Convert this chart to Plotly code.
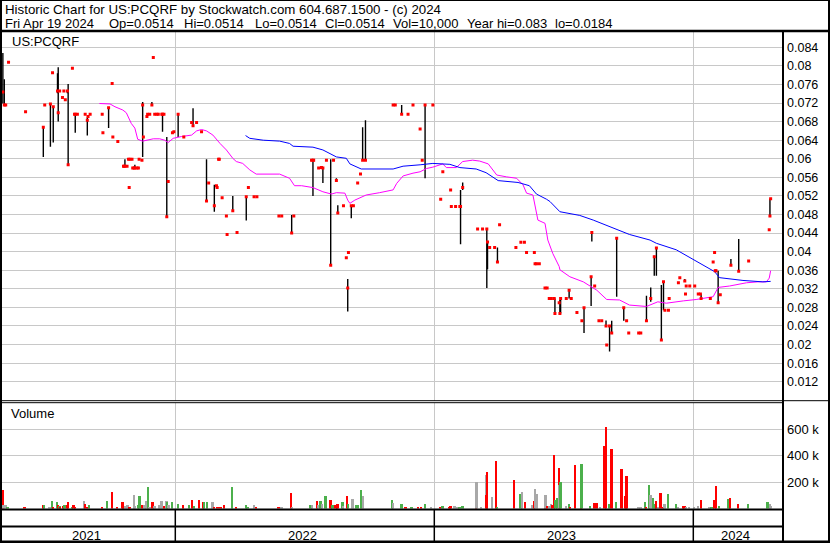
import plotly.graph_objects as go

W, H = 830, 543

# ---------------- data ----------------
close_dates = [
    "2021-05-03","2021-05-05","2021-05-07","2021-05-11","2021-06-04","2021-06-29","2021-07-01","2021-07-09",
    "2021-07-12","2021-07-13","2021-07-19","2021-07-20","2021-07-22","2021-07-26","2021-07-28","2021-07-30",
    "2021-08-02","2021-08-03","2021-08-09","2021-08-12","2021-08-13","2021-08-16","2021-08-27","2021-08-30",
    "2021-08-31","2021-09-03","2021-09-20","2021-09-21","2021-09-29","2021-10-04","2021-10-05","2021-10-12",
    "2021-10-20","2021-10-21","2021-10-22","2021-10-25","2021-10-27","2021-10-28","2021-10-29","2021-11-01",
    "2021-11-02","2021-11-04","2021-11-05","2021-11-08","2021-11-10","2021-11-11","2021-11-15","2021-11-16",
    "2021-11-17","2021-11-22","2021-11-23","2021-11-26","2021-11-29","2021-12-01","2021-12-03","2021-12-06",
    "2021-12-08","2021-12-13","2021-12-14","2021-12-16","2021-12-20","2021-12-22","2021-12-28","2021-12-30",
    "2022-01-05","2022-01-13","2022-01-24","2022-01-26","2022-01-31","2022-02-07","2022-02-14","2022-02-17",
    "2022-02-25","2022-02-28","2022-03-01","2022-03-03","2022-03-04","2022-03-08","2022-03-14","2022-03-15",
    "2022-03-23","2022-03-29","2022-04-11","2022-04-14","2022-04-22","2022-04-26","2022-05-27","2022-05-31",
    "2022-06-14","2022-06-17","2022-07-12","2022-07-14","2022-07-15","2022-07-22","2022-07-26","2022-07-28",
    "2022-08-02","2022-08-08","2022-08-12","2022-08-16","2022-08-18","2022-08-26","2022-08-30","2022-09-01",
    "2022-09-02","2022-09-06","2022-09-09","2022-09-15","2022-09-19","2022-09-22","2022-09-26","2022-11-04",
    "2022-11-07","2022-11-16","2022-11-25","2022-12-02","2022-12-12","2022-12-15","2022-12-19","2022-12-30",
    "2023-01-10","2023-01-13","2023-01-24","2023-01-25","2023-01-31","2023-02-06","2023-02-07","2023-02-10",
    "2023-03-03","2023-03-10","2023-03-16","2023-03-17","2023-03-20","2023-03-27","2023-03-31","2023-04-03",
    "2023-04-26","2023-05-03","2023-05-08","2023-05-11","2023-05-22","2023-05-23","2023-05-25","2023-05-29",
    "2023-06-06","2023-06-09","2023-06-12","2023-06-15","2023-06-19","2023-06-20","2023-06-26","2023-06-27",
    "2023-06-28","2023-07-06","2023-07-10","2023-07-13","2023-07-21","2023-07-28","2023-07-31","2023-08-10",
    "2023-08-11","2023-08-15","2023-08-21","2023-08-25","2023-08-31","2023-09-01","2023-09-05","2023-09-08",
    "2023-09-15","2023-09-25","2023-09-29","2023-10-02","2023-10-16","2023-10-19","2023-10-27","2023-11-02",
    "2023-11-07","2023-11-10","2023-11-17","2023-11-20","2023-11-22","2023-11-27","2023-11-28","2023-12-11",
    "2023-12-13","2023-12-20","2023-12-21","2023-12-22","2023-12-27","2024-01-03","2024-01-08","2024-01-11",
    "2024-01-12","2024-01-25","2024-01-29","2024-01-31","2024-02-01","2024-02-02","2024-02-05","2024-02-08",
    "2024-02-23","2024-03-05","2024-03-19","2024-04-17","2024-04-18","2024-04-19",
]
close_values = [
    0.0744,0.0716,0.0716,0.0808,0.0701,0.0668,0.0716,0.0718,
    0.0785,0.0712,0.0746,0.0699,0.0746,0.0732,0.0746,0.0727,
    0.0746,0.0587,0.0795,0.0696,0.0696,0.0696,0.0696,0.0683,
    0.0691,0.0696,0.0696,0.0656,0.0710,0.0762,0.0647,0.0637,
    0.0584,0.0584,0.0584,0.0584,0.0599,0.0538,0.0599,0.0599,
    0.0580,0.0580,0.0580,0.0580,0.0580,0.0599,0.0597,0.0716,
    0.0647,0.0691,0.0696,0.0696,0.0716,0.0818,0.0696,0.0696,
    0.0696,0.0696,0.0696,0.0696,0.0475,0.0551,0.0656,0.0658,
    0.0696,0.0647,0.0678,0.0671,0.0678,0.0658,0.0509,0.0548,
    0.0499,0.0542,0.0538,0.0599,0.0599,0.0516,0.0477,0.0437,
    0.0488,0.0441,0.0518,0.0538,0.0518,0.0518,0.0477,0.0477,
    0.0440,0.0477,0.0597,0.0597,0.0597,0.0580,0.0581,0.0580,
    0.0597,0.0371,0.0597,0.0553,0.0483,0.0499,0.0387,0.0322,
    0.0398,0.0499,0.0499,0.0548,0.0567,0.0597,0.0597,0.0716,
    0.0716,0.0696,0.0696,0.0716,0.0664,0.0597,0.0716,0.0716,
    0.0513,0.0572,0.0533,0.0497,0.0497,0.0497,0.0497,0.0538,
    0.0449,0.0449,0.0449,0.0421,0.0409,0.0409,0.0378,0.0458,
    0.0409,0.0420,0.0420,0.0398,0.0398,0.0374,0.0374,0.0374,
    0.0322,0.0322,0.0299,0.0299,0.0299,0.0267,0.0290,0.0267,
    0.0299,0.0299,0.0317,0.0299,0.0269,0.0251,0.0279,0.0346,
    0.0441,0.0326,0.0251,0.0251,0.0240,0.0199,0.0240,0.0225,
    0.0429,0.0279,0.0251,0.0225,0.0225,0.0225,0.0251,0.0299,
    0.0389,0.0408,0.0210,0.0335,0.0274,0.0274,0.0299,0.0333,
    0.0344,0.0337,0.0309,0.0326,0.0326,0.0326,0.0309,0.0309,
    0.0299,0.0299,0.0378,0.0398,0.0359,0.0359,0.0290,0.0307,
    0.0371,0.0358,0.0380,0.0447,0.0477,0.0514,
]

range_dates = [
    "2021-05-03","2021-05-05","2021-06-29","2021-07-09","2021-07-13","2021-07-19","2021-07-20","2021-08-02",
    "2021-08-03","2021-08-13","2021-08-30","2021-09-29","2021-10-22","2021-11-05","2021-11-16","2021-11-29",
    "2021-12-14","2021-12-20","2022-01-05","2022-01-26","2022-02-14","2022-02-25","2022-03-23","2022-04-11",
    "2022-06-14","2022-07-14","2022-07-28","2022-08-08","2022-08-16","2022-08-18","2022-09-01","2022-09-06",
    "2022-09-22","2022-09-26","2022-11-16","2022-12-19","2023-02-07","2023-02-10","2023-03-16","2023-03-17",
    "2023-03-31","2023-06-20","2023-06-27","2023-06-28","2023-07-10","2023-07-31","2023-08-10","2023-08-11",
    "2023-08-31","2023-09-05","2023-09-08","2023-09-15","2023-09-25","2023-10-27","2023-11-02","2023-11-07",
    "2023-11-10","2023-11-17","2023-11-20","2023-11-28","2023-12-20","2024-01-12","2024-02-05","2024-02-23",
    "2024-03-05","2024-04-18",
]
range_high = [
    0.0828,0.0771,0.0668,0.0718,0.0712,0.0784,0.0797,0.0746,
    0.0761,0.0696,0.0689,0.0710,0.0599,0.0587,0.0722,0.0722,
    0.0696,0.0647,0.0698,0.0709,0.0599,0.0544,0.0520,0.0520,
    0.0479,0.0597,0.0580,0.0599,0.0558,0.0500,0.0341,0.0499,
    0.0668,0.0683,0.0716,0.0716,0.0533,0.0549,0.0449,0.0421,
    0.0409,0.0299,0.0296,0.0299,0.0317,0.0279,0.0346,0.0441,
    0.0252,0.0240,0.0251,0.0429,0.0280,0.0305,0.0323,0.0391,
    0.0409,0.0328,0.0335,0.0301,0.0341,0.0309,0.0359,0.0384,
    0.0427,0.0514,
]
range_low = [
    0.0719,0.0716,0.0604,0.0626,0.0635,0.0741,0.0680,0.0741,
    0.0587,0.0656,0.0650,0.0666,0.0584,0.0580,0.0604,0.0716,
    0.0658,0.0475,0.0647,0.0671,0.0509,0.0486,0.0488,0.0467,
    0.0440,0.0520,0.0548,0.0371,0.0553,0.0483,0.0271,0.0472,
    0.0597,0.0597,0.0696,0.0558,0.0416,0.0533,0.0322,0.0362,
    0.0378,0.0266,0.0267,0.0267,0.0299,0.0225,0.0283,0.0422,
    0.0240,0.0185,0.0225,0.0303,0.0251,0.0251,0.0292,0.0348,
    0.0348,0.0210,0.0274,0.0297,0.0335,0.0297,0.0289,0.0371,
    0.0358,0.0477,
]

ma_short_dates = [
    "2021-09-16","2021-10-01","2021-10-08","2021-10-19","2021-10-24","2021-10-31","2021-11-05","2021-11-09",
    "2021-11-16","2021-12-01","2021-12-10","2021-12-17","2021-12-22","2021-12-29","2022-01-10","2022-01-24",
    "2022-01-31","2022-02-07","2022-02-14","2022-02-23","2022-03-05","2022-03-14","2022-03-23","2022-03-28",
    "2022-04-06","2022-04-16","2022-04-25","2022-05-28","2022-06-11","2022-06-18","2022-06-28","2022-07-14",
    "2022-07-28","2022-08-09","2022-08-16","2022-08-28","2022-09-01","2022-09-04","2022-09-11","2022-09-27",
    "2022-10-16","2022-11-04","2022-11-09","2022-11-18","2022-12-02","2022-12-12","2022-12-21","2022-12-30",
    "2023-01-13","2023-01-18","2023-02-01","2023-02-10","2023-02-24","2023-03-06","2023-03-18","2023-03-30",
    "2023-04-13","2023-04-27","2023-05-06","2023-05-11","2023-05-20","2023-05-25","2023-05-27","2023-06-06",
    "2023-06-08","2023-06-10","2023-06-17","2023-06-26","2023-06-27","2023-07-11","2023-07-30","2023-08-18",
    "2023-09-01","2023-09-19","2023-10-03","2023-10-27","2023-11-12","2023-11-24","2023-12-18","2024-01-05",
    "2024-01-29","2024-02-05","2024-02-21","2024-03-16","2024-04-01","2024-04-13","2024-04-17","2024-04-19",
]
ma_short_values = [
    0.0719,0.0718,0.0712,0.0705,0.0699,0.0676,0.0666,0.0642,
    0.0638,0.0643,0.0643,0.0640,0.0635,0.0644,0.0648,0.0651,
    0.0660,0.0663,0.0660,0.0651,0.0633,0.0619,0.0601,0.0594,
    0.0590,0.0576,0.0567,0.0567,0.0558,0.0542,0.0542,0.0538,
    0.0529,0.0524,0.0527,0.0526,0.0511,0.0504,0.0511,0.0522,
    0.0527,0.0533,0.0547,0.0563,0.0569,0.0572,0.0579,0.0582,
    0.0589,0.0581,0.0581,0.0594,0.0597,0.0595,0.0589,0.0565,
    0.0561,0.0558,0.0544,0.0526,0.0522,0.0483,0.0468,0.0461,
    0.0440,0.0425,0.0396,0.0368,0.0361,0.0346,0.0335,0.0317,
    0.0297,0.0296,0.0285,0.0282,0.0292,0.0289,0.0294,0.0297,
    0.0303,0.0323,0.0326,0.0333,0.0335,0.0335,0.0343,0.0359,
]

ma_long_dates = [
    "2022-04-10","2022-04-16","2022-05-05","2022-05-28","2022-06-11","2022-06-16","2022-07-14","2022-07-28",
    "2022-08-16","2022-08-30","2022-09-04","2022-09-20","2022-11-04","2022-11-18","2022-12-12","2022-12-30",
    "2023-01-23","2023-02-06","2023-03-01","2023-03-15","2023-04-01","2023-04-29","2023-05-15","2023-05-25",
    "2023-06-08","2023-06-13","2023-06-27","2023-07-25","2023-08-13","2023-09-01","2023-09-19","2023-10-03",
    "2023-11-01","2023-11-10","2023-12-08","2023-12-27","2024-01-15","2024-01-31","2024-02-07","2024-03-11",
    "2024-04-08","2024-04-19",
]
ma_long_values = [
    0.0650,0.0644,0.0640,0.0638,0.0633,0.0627,0.0625,0.0619,
    0.0604,0.0601,0.0589,0.0578,0.0578,0.0584,0.0587,0.0590,
    0.0588,0.0581,0.0578,0.0570,0.0553,0.0549,0.0542,0.0524,
    0.0513,0.0508,0.0486,0.0478,0.0468,0.0457,0.0445,0.0437,
    0.0425,0.0418,0.0404,0.0388,0.0371,0.0357,0.0344,0.0338,
    0.0335,0.0336,
]

vol_dates = [
    "2021-05-03","2021-05-04","2021-05-07","2021-05-10","2021-06-03","2021-06-29","2021-06-30","2021-07-08",
    "2021-07-12","2021-07-13","2021-07-19","2021-07-20","2021-07-22","2021-07-23","2021-07-27","2021-07-29",
    "2021-08-02","2021-08-03","2021-08-09","2021-08-11","2021-08-13","2021-08-26","2021-08-27","2021-08-30",
    "2021-09-02","2021-09-20","2021-09-27","2021-10-04","2021-10-11","2021-10-19","2021-10-20","2021-10-22",
    "2021-10-26","2021-10-28","2021-10-29","2021-11-04","2021-11-05","2021-11-10","2021-11-12","2021-11-15",
    "2021-11-19","2021-11-22","2021-11-24","2021-11-26","2021-11-30","2021-12-03","2021-12-09","2021-12-13",
    "2021-12-16","2021-12-20","2021-12-21","2021-12-23","2021-12-28","2022-01-05","2022-01-12","2022-01-21",
    "2022-01-25","2022-01-28","2022-02-04","2022-02-09","2022-02-11","2022-02-15","2022-02-23","2022-02-25",
    "2022-03-01","2022-03-04","2022-03-07","2022-03-11","2022-03-22","2022-03-28","2022-04-11","2022-04-13",
    "2022-04-22","2022-04-25","2022-05-27","2022-05-31","2022-06-13","2022-06-15","2022-07-11","2022-07-13",
    "2022-07-20","2022-07-22","2022-07-25","2022-07-27","2022-08-01","2022-08-08","2022-08-11","2022-08-15",
    "2022-08-17","2022-08-18","2022-08-25","2022-08-26","2022-08-31","2022-09-02","2022-09-08","2022-09-13",
    "2022-09-16","2022-09-20","2022-09-23","2022-11-03","2022-11-04","2022-11-16","2022-11-22","2022-11-30",
    "2022-12-09","2022-12-14","2022-12-19","2022-12-28","2023-01-09","2023-01-13","2023-01-23","2023-01-24",
    "2023-01-30","2023-02-03","2023-02-06","2023-02-10","2023-03-01","2023-03-02","2023-03-08","2023-03-15",
    "2023-03-16","2023-03-17","2023-03-24","2023-03-29","2023-03-31","2023-04-24","2023-05-03","2023-05-05",
    "2023-05-09","2023-05-19","2023-05-22","2023-05-23","2023-05-26","2023-06-06","2023-06-07","2023-06-09",
    "2023-06-12","2023-06-15","2023-06-16","2023-06-19","2023-06-21","2023-06-23","2023-06-26","2023-06-27",
    "2023-06-28","2023-07-06","2023-07-10","2023-07-12","2023-07-19","2023-07-27","2023-07-28","2023-08-09",
    "2023-08-14","2023-08-18","2023-08-23","2023-08-29","2023-08-31","2023-09-05","2023-09-08","2023-09-14",
    "2023-09-22","2023-09-28","2023-09-29","2023-10-16","2023-10-19","2023-10-25","2023-10-27","2023-10-31",
    "2023-11-02","2023-11-06","2023-11-08","2023-11-10","2023-11-13","2023-11-16","2023-11-20","2023-11-22",
    "2023-11-27","2023-12-08","2023-12-11","2023-12-18","2023-12-20","2023-12-22","2023-12-26","2024-01-02",
    "2024-01-08","2024-01-12","2024-01-24","2024-01-26","2024-01-29","2024-01-31","2024-02-02","2024-02-07",
    "2024-02-20","2024-02-22","2024-03-04","2024-03-18","2024-04-15","2024-04-18","2024-04-19",
]
vol_values = [
    143000,25000,25000,7000,8000,25000,25000,15000,
    62000,15000,49000,25000,20000,15000,20000,25000,
    32000,54000,7000,25000,15000,62000,40000,15000,
    32000,15000,62000,129000,7000,54000,20000,20000,
    27000,15000,12000,106000,20000,25000,99000,32000,
    25000,62000,166000,7000,54000,20000,25000,62000,
    20000,62000,49000,25000,52000,39000,25000,32000,
    69000,20000,69000,52000,54000,54000,54000,14000,
    7000,7000,14000,32000,161000,7000,25000,12000,
    25000,14000,12000,15000,123000,15000,32000,25000,
    62000,32000,62000,39000,99000,69000,25000,32000,
    39000,39000,52000,20000,99000,39000,77000,32000,
    25000,143000,94000,69000,44000,39000,12000,12000,
    7000,7000,39000,15000,7000,24000,12000,24000,
    24000,12000,7000,24000,106000,200000,7000,255000,
    106000,277000,91000,359000,7000,216000,114000,129000,
    52000,32000,62000,151000,114000,7000,106000,24000,
    24000,39000,32000,409000,69000,82000,307000,176000,
    200000,24000,39000,7000,329000,24000,336000,24000,
    44000,44000,12000,471000,620000,39000,448000,54000,
    300000,99000,248000,7000,7000,54000,14000,181000,
    106000,82000,39000,62000,12000,119000,14000,39000,
    114000,39000,12000,24000,24000,14000,7000,7000,
    24000,69000,7000,14000,14000,69000,173000,24000,
    77000,82000,39000,39000,54000,39000,24000,
]
vol_dir = [
    "d","f","f","u","d","d","u","f",
    "u","d","u","d","u","d","d","u",
    "d","d","u","d","d","f","d","d",
    "u","d","u","d","d","d","d","f",
    "f","d","d","f","f","u","u","d",
    "f","f","u","f","d","f","f","f",
    "d","f","u","f","u","u","d","u",
    "d","u","d","d","u","u","f","d",
    "d","d","d","d","u","d","u","u",
    "f","d","d","f","d","f","u","f",
    "d","f","u","f","u","d","u","d",
    "d","d","u","f","d","u","f","u",
    "u","u","f","u","f","u","d","u",
    "d","d","u","f","d","u","d","d",
    "f","f","u","u","d","f","f","f",
    "d","d","f","d","u","d","u","f",
    "d","f","d","f","f","d","f","d",
    "f","f","d","d","u","u","d","f",
    "u","f","u","d","d","d","u","u",
    "d","d","f","d","d","u","d","u",
    "d","d","d","f","f","u","d","u",
    "f","u","u","d","f","d","d","f",
    "u","u","f","d","d","f","f","f",
    "f","d","f","u","u","d","d","u",
    "u","d","d","u","u","f","f",
]

price_ticks = [0.084, 0.08, 0.076, 0.072, 0.068, 0.064, 0.06, 0.056, 0.052, 0.048,
               0.044, 0.04, 0.036, 0.032, 0.028, 0.024, 0.02, 0.016, 0.012]
price_tick_text = ["0.084", "0.08", "0.076", "0.072", "0.068", "0.064", "0.06", "0.056", "0.052", "0.048",
                   "0.044", "0.04", "0.036", "0.032", "0.028", "0.024", "0.02", "0.016", "0.012"]
vol_ticks = [200000, 400000, 600000]
vol_tick_text = ["200 k", "400 k", "600 k"]
year_starts = ["2022-01-01", "2023-01-01", "2024-01-01"]
year_labels = ["2021", "2022", "2023", "2024"]

header_line1 = "Historic Chart for US:PCQRF by Stockwatch.com 604.687.1500 - (c) 2024"
header_items = ["Fri Apr 19 2024", "Op=0.0514", "Hi=0.0514", "Lo=0.0514", "Cl=0.0514",
                "Vol=10,000", "Year hi=0.083", "lo=0.0184"]
symbol = "US:PCQRF"

# ---------------- layout geometry (pixels) ----------------
def px(x):
    return x / W

def py(y):
    return 1 - y / H

X_RIGHT = 782.0
PRICE_TOP, PRICE_BOT = 31.0, 400.7
VOL_TOP, VOL_BOT = 402.7, 508.5
x_range = ["2021-04-28 23:00", "2024-05-05 00:00"]
price_range = [0.00791, 0.08751]
vol_range = [0, 600000 * (VOL_BOT - VOL_TOP) / 79.5]

FONT = "Liberation Sans, Arial, sans-serif"

fig = go.Figure()

# High-low bars
bx, by = [], []
for d, hi, lo in zip(range_dates, range_high, range_low):
    bx += [d, d, None]
    by += [lo, hi, None]
fig.add_trace(go.Scatter(x=bx, y=by, mode="lines", line=dict(color="black", width=1.4),
                         xaxis="x", yaxis="y", hoverinfo="skip"))
# moving averages
fig.add_trace(go.Scatter(x=ma_short_dates, y=ma_short_values, mode="lines",
                         line=dict(color="#ff00ff", width=1), xaxis="x", yaxis="y"))
fig.add_trace(go.Scatter(x=ma_long_dates, y=ma_long_values, mode="lines",
                         line=dict(color="#0000ff", width=1), xaxis="x", yaxis="y"))
# closes
fig.add_trace(go.Scatter(x=close_dates, y=close_values, mode="markers",
                         marker=dict(symbol="square", size=3, color="#ff0000", line=dict(width=0)),
                         xaxis="x", yaxis="y"))

# volume
cmap = {"d": "#ff0000", "u": "#4cb04c", "f": "#a8a8a8"}
fig.add_trace(go.Bar(x=vol_dates, y=vol_values, marker=dict(color=[cmap[c] for c in vol_dir], line=dict(width=0)),
                     width=2.6 * 86400000, xaxis="x2", yaxis="y2"))

grid = "#c8c8c8"
fig.update_layout(
    width=W, height=H, autosize=False,
    margin=dict(l=0, r=0, t=0, b=0, pad=0),
    paper_bgcolor="white", plot_bgcolor="white",
    showlegend=False, bargap=0,
    font=dict(family=FONT, size=12, color="black"),
    xaxis=dict(domain=[0, px(X_RIGHT)], range=x_range, type="date", anchor="y",
               tickvals=year_starts, showticklabels=False, ticks="",
               showgrid=True, gridcolor=grid, gridwidth=1, zeroline=False, showline=False),
    yaxis=dict(domain=[py(PRICE_BOT), py(PRICE_TOP)], range=price_range, side="right", anchor="x",
               tickvals=price_ticks, ticktext=price_tick_text, ticks="",
               tickfont=dict(family=FONT, size=12.5, color="black"), ticklabelstandoff=4,
               showgrid=True, gridcolor=grid, gridwidth=1, zeroline=False, showline=False),
    xaxis2=dict(domain=[0, px(X_RIGHT)], range=x_range, type="date", anchor="y2",
                tickvals=year_starts, showticklabels=False, ticks="",
                showgrid=True, gridcolor=grid, gridwidth=1, zeroline=False, showline=False),
    yaxis2=dict(domain=[py(VOL_BOT), py(VOL_TOP)], range=vol_range, side="right", anchor="x2",
                tickvals=vol_ticks, ticktext=vol_tick_text, ticks="",
                tickfont=dict(family=FONT, size=13, color="black"), ticklabelstandoff=4,
                showgrid=True, gridcolor=grid, gridwidth=1, zeroline=False, showline=False),
)

# frame lines
def hline(y, x0, x1, w):
    fig.add_shape(type="line", xref="paper", yref="paper", x0=px(x0), x1=px(x1), y0=py(y), y1=py(y),
                  line=dict(color="black", width=w), layer="above")

def vline(x, y0, y1, w):
    fig.add_shape(type="line", xref="paper", yref="paper", x0=px(x), x1=px(x), y0=py(y0), y1=py(y1),
                  line=dict(color="black", width=w), layer="above")

hline(0.5, 0, W, 1)
hline(31, 0, W, 2.5)
hline(400.7, 0, W, 1)
hline(402.7, 0, X_RIGHT, 1)
hline(509.5, 0, X_RIGHT, 2)
hline(526.5, 0, X_RIGHT, 2)
hline(541.8, 0, W, 2.5)
vline(1, 0, H, 2)
vline(829, 0, H, 2)
vline(X_RIGHT + 1, 31, H, 2)
for ys in year_starts:
    fig.add_shape(type="line", xref="x2", yref="paper", x0=ys, x1=ys, y0=py(509.5), y1=py(541.8),
                  line=dict(color="black", width=1.5), layer="above")

# texts
def text(s, x, y, size=13, anchor="left"):
    fig.add_annotation(text=s, x=px(x), y=py(y), xref="paper", yref="paper", showarrow=False,
                       xanchor=anchor, yanchor="middle", font=dict(family=FONT, size=size, color="black"))

text(header_line1, 3, 9.5, size=13.3)
for s, x in zip(header_items, [3, 107, 182, 252.5, 322.5, 391, 465, 553]):
    text(s, x, 23)
text(symbol, 9.5, 41.5)
text("Volume", 9, 413.5)
for s, x in zip(year_labels, [86.3, 302.7, 561.7, 735.3]):
    text(s, x, 535, anchor="center")

fig.write_html("out.html", config={"displayModeBar": False},
               post_script="document.body.style.margin='0';document.body.style.overflow='hidden';")
